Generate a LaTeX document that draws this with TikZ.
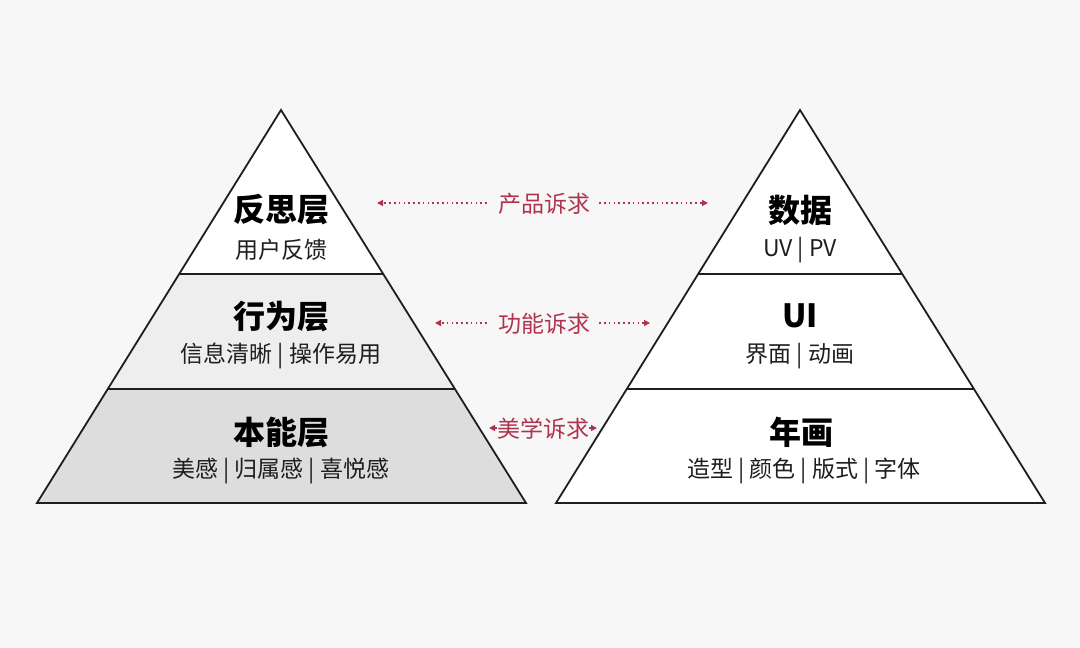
\documentclass[tikz,border=0pt]{standalone}
\usepackage{fontspec}
\setmainfont{Noto Sans CJK SC}
\usetikzlibrary{arrows.meta}
\definecolor{bgc}{HTML}{F7F7F7}
\definecolor{lineC}{HTML}{1E1E1E}
\definecolor{midF}{HTML}{EEEEEE}
\definecolor{lowF}{HTML}{DDDDDD}
\definecolor{redC}{HTML}{B0334D}
\newcommand{\vsep}{\hspace{5pt}|\hspace{5pt}}
\tikzset{
  tri/.style={draw=lineC, line width=1.8pt, line join=miter},
  sep/.style={draw=lineC, line width=1.8pt},
  title/.style={font=\fontsize{32}{35}\selectfont\bfseries, text=black, inner sep=0pt},
  sub/.style={font=\fontsize{23}{26}\selectfont, text=lineC, inner sep=0pt},
  req/.style={font=\fontsize{23}{26}\selectfont, text=redC, inner sep=0pt},
  dotarrow/.style={draw=redC, line width=1.3pt, dash pattern=on 1.6pt off 3.2pt, -{Triangle[length=6pt,width=6pt]}}
}
\begin{document}
\begin{tikzpicture}[x=1pt,y=-1pt]
\fill[bgc] (0,0) rectangle (1080,648);
\useasboundingbox (0,0) rectangle (1080,648);
% left pyramid
\coordinate (LA) at (281,110);
\coordinate (LBl) at (37,503);
\coordinate (LBr) at (526,503);
\coordinate (L1l) at (179.3,274);
\coordinate (L1r) at (382.7,274);
\coordinate (L2l) at (107.8,389);
\coordinate (L2r) at (454.2,389);
\fill[white] (LA) -- (L1l) -- (L1r) -- cycle;
\fill[midF] (L1l) -- (L2l) -- (L2r) -- (L1r) -- cycle;
\fill[lowF] (L2l) -- (LBl) -- (LBr) -- (L2r) -- cycle;
\draw[sep] (L1l) -- (L1r);
\draw[sep] (L2l) -- (L2r);
\draw[tri] (LA) -- (LBl) -- (LBr) -- cycle;
% right pyramid
\coordinate (RA) at (800,110);
\coordinate (RBl) at (556,503);
\coordinate (RBr) at (1045,503);
\coordinate (R1l) at (698.3,274);
\coordinate (R1r) at (901.7,274);
\coordinate (R2l) at (626.8,389);
\coordinate (R2r) at (973.2,389);
\fill[white] (RA) -- (RBl) -- (RBr) -- cycle;
\draw[sep] (R1l) -- (R1r);
\draw[sep] (R2l) -- (R2r);
\draw[tri] (RA) -- (RBl) -- (RBr) -- cycle;
% left texts
\node[title] (t1) at (281,210) {反思层};
\node[sub] (s1) at (281,250) {用户反馈};
\node[title] (t2) at (281,317) {行为层};
\node[sub] (s2) at (281,356) {信息清晰\vsep 操作易用};
\node[title] (t3) at (281,432) {本能层};
\node[sub] (s3) at (281,471) {美感\vsep 归属感\vsep 喜悦感};
% right texts
\node[title] (u1) at (800,210) {数据};
\node[sub] (v1) at (800,250) {UV\vsep PV};
\node[title] (u2) at (800,316) {UI};
\node[sub] (v2) at (800,356) {界面\vsep 动画};
\node[title] (u3) at (801,432) {年画};
\node[sub] (v3) at (804,471) {造型\vsep 颜色\vsep 版式\vsep 字体};
% requirement labels
\node[req] (r1) at (544,204) {产品诉求};
\node[req] (r2) at (544,324) {功能诉求};
\node[req] (r3) at (543,429) {美学诉求};
\coordinate (a1l) at (377,203);
\coordinate (a1r) at (708,203);
\coordinate (a2l) at (435,323);
\coordinate (a2r) at (650,323);
\coordinate (a3l) at (489,428);
\coordinate (a3r) at (597,428);
\draw[dotarrow] ([xshift=-11pt]r1.west |- a1l) -- (a1l);
\draw[dotarrow] ([xshift=9pt]r1.east |- a1r) -- (a1r);
\draw[dotarrow] ([xshift=-11pt]r2.west |- a2l) -- (a2l);
\draw[dotarrow] ([xshift=9pt]r2.east |- a2r) -- (a2r);
\draw[dotarrow, dash pattern=] (r3.west |- a3l) -- (a3l);
\draw[dotarrow, dash pattern=] (r3.east |- a3r) -- (a3r);
\end{tikzpicture}
\end{document}
